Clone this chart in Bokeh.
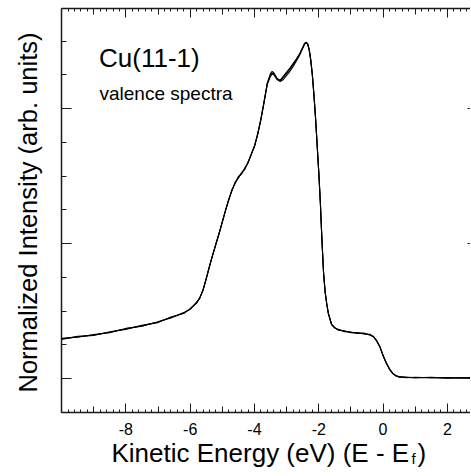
from bokeh.plotting import figure
from bokeh.models import Range1d, LinearAxis, FixedTicker, Label
from bokeh.embed import file_html
from bokeh.resources import INLINE

# ---------------- data ----------------
energy = [-10.0, -9.5, -9.0, -8.5, -8.0, -7.5, -7.0, -6.6, -6.2, -6.0, -5.8, -5.7,
          -5.6, -5.5, -5.4, -5.3, -5.2, -5.1, -5.0, -4.9, -4.8, -4.7, -4.6, -4.5,
          -4.4, -4.3, -4.2, -4.1, -4.0, -3.9, -3.8, -3.7, -3.6, -3.5, -3.45, -3.4,
          -3.3, -3.2, -3.1, -3.0, -2.9, -2.8, -2.7, -2.6, -2.5, -2.45, -2.4, -2.35,
          -2.3, -2.25, -2.2, -2.15, -2.1, -2.05, -2.0, -1.95, -1.9, -1.85, -1.8,
          -1.75, -1.7, -1.6, -1.5, -1.4, -1.2, -1.0, -0.8, -0.6, -0.4, -0.3, -0.2,
          -0.1, 0.0, 0.1, 0.2, 0.3, 0.4, 0.5, 0.7, 1.0, 1.5, 2.0, 2.5, 2.8]

spectrum_a = [0.294, 0.309, 0.322, 0.343, 0.368, 0.390, 0.418, 0.452, 0.485, 0.515, 0.562, 0.597,
              0.655, 0.740, 0.830, 0.915, 0.995, 1.075, 1.160, 1.245, 1.325, 1.395, 1.450, 1.490,
              1.520, 1.555, 1.600, 1.660, 1.720, 1.810, 1.920, 2.050, 2.190, 2.260, 2.275, 2.265,
              2.225, 2.205, 2.230, 2.260, 2.290, 2.325, 2.360, 2.400, 2.450, 2.475, 2.490, 2.480,
              2.440, 2.360, 2.250, 2.100, 1.930, 1.730, 1.530, 1.300, 1.020, 0.780, 0.637,
              0.550, 0.480, 0.400, 0.375, 0.362, 0.350, 0.342, 0.337, 0.333, 0.324, 0.310, 0.280,
              0.236, 0.170, 0.115, 0.070, 0.038, 0.020, 0.012, 0.008, 0.007, 0.007, 0.005, 0.005, 0.005]

spectrum_b = [0.290, 0.312, 0.318, 0.346, 0.364, 0.394, 0.414, 0.456, 0.481, 0.518, 0.558, 0.600,
              0.652, 0.744, 0.826, 0.918, 0.992, 1.078, 1.156, 1.248, 1.320, 1.400, 1.445, 1.496,
              1.515, 1.560, 1.596, 1.664, 1.716, 1.814, 1.916, 2.046, 2.180, 2.240, 2.255, 2.250,
              2.215, 2.200, 2.215, 2.245, 2.275, 2.310, 2.350, 2.392, 2.446, 2.472, 2.488, 2.478,
              2.438, 2.358, 2.248, 2.098, 1.928, 1.728, 1.528, 1.298, 1.018, 0.778, 0.635,
              0.548, 0.478, 0.402, 0.372, 0.365, 0.347, 0.345, 0.334, 0.336, 0.321, 0.312, 0.278,
              0.238, 0.168, 0.117, 0.068, 0.040, 0.018, 0.014, 0.006, 0.009, 0.005, 0.007, 0.004, 0.006]

spectrum_c = [0.297, 0.306, 0.325, 0.340, 0.371, 0.387, 0.421, 0.449, 0.488, 0.512, 0.565, 0.594,
              0.658, 0.736, 0.834, 0.912, 0.998, 1.072, 1.164, 1.242, 1.330, 1.390, 1.455, 1.486,
              1.525, 1.550, 1.604, 1.656, 1.724, 1.806, 1.924, 2.054, 2.186, 2.250, 2.262, 2.258,
              2.220, 2.210, 2.240, 2.270, 2.300, 2.332, 2.366, 2.404, 2.452, 2.478, 2.492, 2.482,
              2.442, 2.362, 2.252, 2.102, 1.932, 1.732, 1.532, 1.302, 1.022, 0.782, 0.639,
              0.552, 0.482, 0.398, 0.378, 0.359, 0.353, 0.339, 0.340, 0.330, 0.327, 0.308, 0.282,
              0.234, 0.172, 0.113, 0.072, 0.036, 0.022, 0.010, 0.010, 0.005, 0.009, 0.003, 0.006, 0.004]

x_major_ticks = [-8, -6, -4, -2, 0, 2]
x_tick_labels = ["-8", "-6", "-4", "-2", "0", "2"]
x_mid_ticks = [-9, -7, -5, -3, -1, 1]
y_major_ticks = [0, 1, 2]

# plot box (the drawn frame) in data units
box_x0, box_x1 = -10.0, 2.72
box_y0, box_y1 = -0.252, 2.741

FONT = "Liberation Sans"
W, H = 470, 475
LINE = "#1a1a1a"

p = figure(width=W, height=H, output_backend="svg", toolbar_location=None,
           x_range=Range1d(-11.90, 2.72), y_range=Range1d(-0.7185, 2.80),
           min_border=0, min_border_left=0, min_border_right=0,
           min_border_top=0, min_border_bottom=0,
           background_fill_color="white", border_fill_color="white")
p.grid.visible = False
p.outline_line_color = None

x_minor = [round(-10.0 + 0.2 * i, 1) for i in range(64)]
y_minor = [round(-0.25 + 0.25 * i, 2) for i in range(12)]


def base_style(ax):
    ax.axis_line_width = 1.5
    ax.axis_line_color = LINE
    ax.major_tick_line_color = LINE
    ax.minor_tick_line_color = LINE
    ax.major_tick_out = 0
    ax.minor_tick_out = 0


def hide_labels(ax, ticks):
    ax.major_label_overrides = {t: "" for t in ticks}
    ax.major_label_text_color = None
    ax.major_label_standoff = 0


# bottom axis
bx = p.xaxis[0]
base_style(bx)
bx.fixed_location = box_y0
bx.bounds = (box_x0, box_x1)
bx.ticker = FixedTicker(ticks=x_major_ticks, minor_ticks=x_minor)
bx.major_tick_in = 9
bx.minor_tick_in = 3
bx.major_label_overrides = dict(zip(x_major_ticks, x_tick_labels))
bx.major_label_text_font = FONT
bx.major_label_text_font_size = "16px"
bx.major_label_text_color = "black"
bx.major_label_standoff = 10

# top axis
tx = LinearAxis(fixed_location=box_y1, bounds=(box_x0, box_x1),
                ticker=FixedTicker(ticks=x_major_ticks, minor_ticks=x_minor))
base_style(tx)
tx.major_tick_in = 9
tx.minor_tick_in = 3
hide_labels(tx, x_major_ticks)
p.add_layout(tx, "above")

# medium ticks at odd integers, bottom and top
for loc, side in ((box_y0, "below"), (box_y1, "above")):
    mx = LinearAxis(fixed_location=loc, bounds=(box_x0, box_x1),
                    ticker=FixedTicker(ticks=x_mid_ticks, minor_ticks=[]))
    base_style(mx)
    mx.axis_line_color = None
    mx.major_tick_in = 6
    mx.major_tick_line_width = 1
    hide_labels(mx, x_mid_ticks)
    p.add_layout(mx, side)

# left axis
ly = p.yaxis[0]
base_style(ly)
ly.fixed_location = box_x0
ly.bounds = (box_y0, box_y1)
ly.ticker = FixedTicker(ticks=y_major_ticks, minor_ticks=y_minor)
ly.major_tick_in = 10
ly.minor_tick_in = 5
hide_labels(ly, y_major_ticks)

# right axis (its line lies just beyond the visible area)
ry = LinearAxis(fixed_location=box_x1, bounds=(box_y0, box_y1),
                ticker=FixedTicker(ticks=y_major_ticks, minor_ticks=[]))
base_style(ry)
ry.axis_line_color = None
ry.major_tick_in = 3
hide_labels(ry, y_major_ticks)
p.add_layout(ry, "right")

# spectra
for s in (spectrum_a, spectrum_b, spectrum_c):
    p.line(energy, s, line_color="black", line_width=1.1)

# texts (screen units measured from the bottom-left of the canvas)
def label(text, x, y, size, **kw):
    p.add_layout(Label(x=x, y=y, x_units="screen", y_units="screen", text=text,
                       text_font=FONT, text_font_size=size, text_color="black",
                       text_baseline=kw.pop("baseline", "alphabetic"),
                       text_align=kw.pop("align", "left"), **kw))

label("Cu(11-1)", 98.5, H - 66.7 + 9, "26px")
label("valence spectra", 99, H - 99.3 + 6.6, "19px")
label("Normalized Intensity (arb. units)", 27.7, H - 212, "25.5px",
      align="center", angle=90, angle_units="deg")
label("Kinetic Energy (eV) (E - E", 111, H - 461.7 + 9, "26px")
label("f", 411, H - 463.5 + 5.2, "15px")
label(")", 417, H - 461.7 + 9, "26px")

open("out.html", "w").write(file_html(p, INLINE))
